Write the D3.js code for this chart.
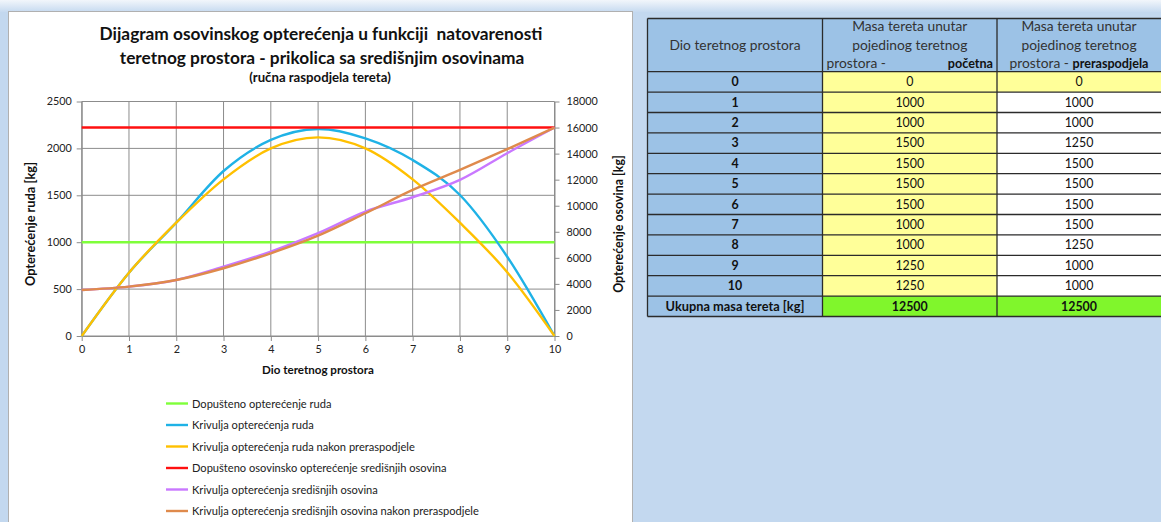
<!DOCTYPE html>
<html><head><meta charset="utf-8">
<script src="https://cdn.jsdelivr.net/npm/d3@7"></script>
<style>
html,body{margin:0;padding:0;background:#c6daf0;}
svg{display:block;}
text{font-family:Lato,"Open Sans",sans-serif;}
</style></head>
<body>
<svg id="c" width="1161" height="522"></svg>
<script>
// ---------- data ----------
const parts = [0,1,2,3,4,5,6,7,8,9,10];
const drawbarLoad = [0, 675, 1208, 1759, 2090, 2207, 2107, 1876, 1503, 845, 0];          // Krivulja opterećenja ruda
const drawbarLoadRedist = [0, 675, 1208, 1670, 2000, 2118, 2000, 1670, 1208, 680, 0];    // ... nakon preraspodjele
const axleLoad = [3530, 3790, 4300, 5320, 6480, 7890, 9550, 10650, 11980, 14030, 16000];   // Krivulja opterećenja središnjih osovina
const axleLoadRedist = [3530, 3790, 4300, 5200, 6350, 7700, 9420, 11210, 12750, 14340, 16000];
const allowedDrawbar = 1000;
const allowedAxle = 16000;
const leftTicks = [0,500,1000,1500,2000,2500];
const rightTicks = [0,2000,4000,6000,8000,10000,12000,14000,16000,18000];
const xTicks = [0,1,2,3,4,5,6,7,8,9,10];

const legendNames = [
  "Dopušteno opterećenje ruda",
  "Krivulja opterećenja ruda",
  "Krivulja opterećenja ruda nakon preraspodjele",
  "Dopušteno osovinsko opterećenje središnjih osovina",
  "Krivulja opterećenja središnjih osovina",
  "Krivulja opterećenja središnjih osovina nakon preraspodjele"
];
const colors = ["#7fff3a","#1fb2e6","#ffc000","#ff1010","#c978ff","#df8a4c"];

const tableParts = [0,1,2,3,4,5,6,7,8,9,10];
const massInitial = [0,1000,1000,1500,1500,1500,1500,1000,1000,1250,1250];
const massRedist = [0,1000,1000,1250,1500,1500,1500,1500,1250,1000,1000];
const totalInitial = 12500, totalRedist = 12500;

// ---------- drawing ----------
const svg = d3.select("#c");
const defs = svg.append("defs");
const g0 = defs.append("linearGradient").attr("id","topg").attr("x1",0).attr("x2",0).attr("y1",0).attr("y2",1);
g0.append("stop").attr("offset","0%").attr("stop-color","#f2f6fb");
g0.append("stop").attr("offset","100%").attr("stop-color","#c6daf0");
svg.append("rect").attr("x",0).attr("y",0).attr("width",1161).attr("height",522).attr("fill","#c3d8ef");
svg.append("rect").attr("x",0).attr("y",0).attr("width",1161).attr("height",12).attr("fill","url(#topg)");

// chart panel
svg.append("rect").attr("x",8.5).attr("y",11.5).attr("width",624).attr("height",520)
  .attr("fill","#ffffff").attr("stroke","#b0b0b0").attr("stroke-width",1);

const x = d3.scaleLinear().domain([0,10]).range([81.7,554.5]);
const yL = d3.scaleLinear().domain([0,2500]).range([336,101.5]);
const yR = d3.scaleLinear().domain([0,18000]).range([336,101.5]);
const gridC = "#8c8c8c";

// title
const title = svg.append("g").attr("font-weight","bold").attr("fill","#111").attr("text-anchor","middle");
title.append("text").attr("x",321).attr("y",40).attr("font-size",17.3).text("Dijagram osovinskog opterećenja u funkciji\u00a0 natovarenosti");
title.append("text").attr("x",322).attr("y",64).attr("font-size",17.3).text("teretnog prostora - prikolica sa središnjim osovinama");
title.append("text").attr("x",320).attr("y",82).attr("font-size",13.2).text("(ručna raspodjela tereta)");

// grid
const grid = svg.append("g");
grid.selectAll("line.v").data(xTicks).join("line").attr("class","v")
  .attr("x1",d=>x(d)).attr("x2",d=>x(d)).attr("y1",yL(2500)).attr("y2",yL(0))
  .attr("stroke",gridC).attr("stroke-width",1);
grid.selectAll("line.h").data(leftTicks).join("line").attr("class","h")
  .attr("x1",x(0)).attr("x2",x(10)).attr("y1",d=>yL(d)).attr("y2",d=>yL(d))
  .attr("stroke",gridC).attr("stroke-width",1);

function styleAxis(g){
  g.select(".domain").attr("stroke",gridC);
  g.selectAll(".tick line").attr("stroke",gridC);
  g.selectAll(".tick text").attr("fill","#222").attr("font-size",10.8).attr("font-family","Lato, sans-serif");
}
svg.append("g").attr("transform",`translate(${x(0)},0)`)
  .call(d3.axisLeft(yL).tickValues(leftTicks).tickSize(5).tickPadding(5).tickSizeOuter(0).tickFormat(d3.format("d")))
  .call(styleAxis);
svg.append("g").attr("transform",`translate(${x(10)},0)`)
  .call(d3.axisRight(yR).tickValues(rightTicks).tickSize(5).tickPadding(7).tickSizeOuter(0).tickFormat(d3.format("d")))
  .call(styleAxis);
svg.append("g").attr("transform",`translate(0,${yL(0)})`)
  .call(d3.axisBottom(x).tickValues(xTicks).tickSize(5).tickPadding(4).tickSizeOuter(0).tickFormat(d3.format("d")))
  .call(styleAxis);

// axis titles
svg.append("text").attr("x",318).attr("y",374).attr("text-anchor","middle").attr("font-weight","bold")
  .attr("font-size",11.6).attr("fill","#111").text("Dio teretnog prostora");
svg.append("text").attr("transform","translate(35,224) rotate(-90)").attr("text-anchor","middle").attr("font-weight","bold")
  .attr("font-size",12.8).attr("fill","#111").text("Opterećenje ruda [kg]");
svg.append("text").attr("transform","translate(623,224) rotate(-90)").attr("text-anchor","middle").attr("font-weight","bold")
  .attr("font-size",12.4).attr("fill","#111").text("Opterećenje osovina [kg]");

// series
const lineL = d3.line().x((d,i)=>x(parts[i])).y(d=>yL(d)).curve(d3.curveCardinal.tension(0));
const lineR = d3.line().x((d,i)=>x(parts[i])).y(d=>yR(d)).curve(d3.curveCardinal.tension(0));
const series = svg.append("g").attr("fill","none").attr("stroke-width",2.4).attr("stroke-linejoin","round");
series.append("line").attr("x1",x(0)).attr("x2",x(10)).attr("y1",yL(allowedDrawbar)).attr("y2",yL(allowedDrawbar)).attr("stroke",colors[0]).attr("stroke-width",2.4);
series.append("path").attr("d",lineL(drawbarLoad)).attr("stroke",colors[1]);
series.append("path").attr("d",lineL(drawbarLoadRedist)).attr("stroke",colors[2]);
series.append("line").attr("x1",x(0)).attr("x2",x(10)).attr("y1",yR(allowedAxle)).attr("y2",yR(allowedAxle)).attr("stroke",colors[3]).attr("stroke-width",2.4);
series.append("path").attr("d",lineR(axleLoad)).attr("stroke",colors[4]);
series.append("path").attr("d",lineR(axleLoadRedist)).attr("stroke",colors[5]);

// legend
const lg = svg.append("g");
legendNames.forEach((n,i)=>{
  const yy = 403.5 + i*21.5;
  lg.append("line").attr("x1",166).attr("x2",188).attr("y1",yy).attr("y2",yy).attr("stroke",colors[i]).attr("stroke-width",2.4);
  lg.append("text").attr("x",192).attr("y",yy+4).attr("font-size",11.1).attr("fill","#222").text(n);
});

// ---------- table ----------
const tx = [647.5, 822.5, 997, 1172];
const c3 = 1079;
const headTop = 18.5, headBot = 71.7, rowH = 20.4;
const t = svg.append("g");
const rowsN = tableParts.length;
t.append("rect").attr("x",tx[0]).attr("y",headTop).attr("width",tx[3]-tx[0]).attr("height",headBot-headTop).attr("fill","#9cc2e6");
tableParts.forEach((p,i)=>{
  const y0 = headBot + i*rowH;
  t.append("rect").attr("x",tx[0]).attr("y",y0).attr("width",tx[1]-tx[0]).attr("height",rowH).attr("fill","#9cc2e6");
  t.append("rect").attr("x",tx[1]).attr("y",y0).attr("width",tx[2]-tx[1]).attr("height",rowH).attr("fill","#ffff99");
  t.append("rect").attr("x",tx[2]).attr("y",y0).attr("width",tx[3]-tx[2]).attr("height",rowH).attr("fill", i===0 ? "#ffff99" : "#ffffff");
  const cy = y0 + rowH/2 + 4.3;
  t.append("text").attr("x",(tx[0]+tx[1])/2).attr("y",cy).attr("text-anchor","middle").attr("font-weight","bold").attr("font-size",12.4).attr("fill","#111").text(p);
  t.append("text").attr("x",(tx[1]+tx[2])/2).attr("y",cy).attr("text-anchor","middle").attr("font-size",12.4).attr("fill","#111").text(massInitial[i]);
  t.append("text").attr("x",c3).attr("y",cy).attr("text-anchor","middle").attr("font-size",12.4).attr("fill","#111").text(massRedist[i]);
});
const yT = headBot + rowsN*rowH;
t.append("rect").attr("x",tx[0]).attr("y",yT).attr("width",tx[1]-tx[0]).attr("height",rowH).attr("fill","#9cc2e6");
t.append("rect").attr("x",tx[1]).attr("y",yT).attr("width",tx[3]-tx[1]).attr("height",rowH).attr("fill","#80f62c");
const cyT = yT + rowH/2 + 4.3;
t.append("text").attr("x",(tx[0]+tx[1])/2).attr("y",cyT).attr("text-anchor","middle").attr("font-weight","bold").attr("font-size",12.8).attr("fill","#111").text("Ukupna masa tereta [kg]");
t.append("text").attr("x",(tx[1]+tx[2])/2).attr("y",cyT).attr("text-anchor","middle").attr("font-weight","bold").attr("font-size",12.4).attr("fill","#111").text(totalInitial);
t.append("text").attr("x",c3).attr("y",cyT).attr("text-anchor","middle").attr("font-weight","bold").attr("font-size",12.4).attr("fill","#111").text(totalRedist);

// header text
const hc = "#333";
const hf = 13.8;
t.append("text").attr("x",(tx[0]+tx[1])/2).attr("y",49.5).attr("text-anchor","middle").attr("font-size",hf).attr("fill",hc).text("Dio teretnog prostora");
[(tx[1]+tx[2])/2, c3].forEach(cx=>{
  t.append("text").attr("x",cx).attr("y",31).attr("text-anchor","middle").attr("font-size",hf).attr("fill",hc).text("Masa tereta unutar");
  t.append("text").attr("x",cx).attr("y",49.5).attr("text-anchor","middle").attr("font-size",hf).attr("fill",hc).text("pojedinog teretnog");
});
t.append("text").attr("x",tx[1]+4).attr("y",68).attr("font-size",hf).attr("fill",hc).text("prostora -");
t.append("text").attr("x",tx[2]-4).attr("y",68).attr("text-anchor","end").attr("font-size",12.6).attr("font-weight","bold").attr("fill","#111").text("početna");
const h3 = t.append("text").attr("x",c3).attr("y",68).attr("text-anchor","middle").attr("font-size",hf).attr("fill",hc);
h3.append("tspan").text("prostora - ");
h3.append("tspan").attr("font-weight","bold").attr("fill","#111").attr("font-size",12.6).text("preraspodjela");

// grid lines of table
const tl = t.append("g").attr("stroke","#2b2b2b").attr("stroke-width",1.3);
const hy = [headTop, headBot].concat(d3.range(1, rowsN+2).map(i=>headBot+i*rowH));
hy.forEach(yy=> tl.append("line").attr("x1",tx[0]).attr("x2",tx[3]).attr("y1",yy).attr("y2",yy));
tx.forEach(xx=> tl.append("line").attr("x1",xx).attr("x2",xx).attr("y1",headTop).attr("y2",yT+rowH));
</script>
</body></html>
